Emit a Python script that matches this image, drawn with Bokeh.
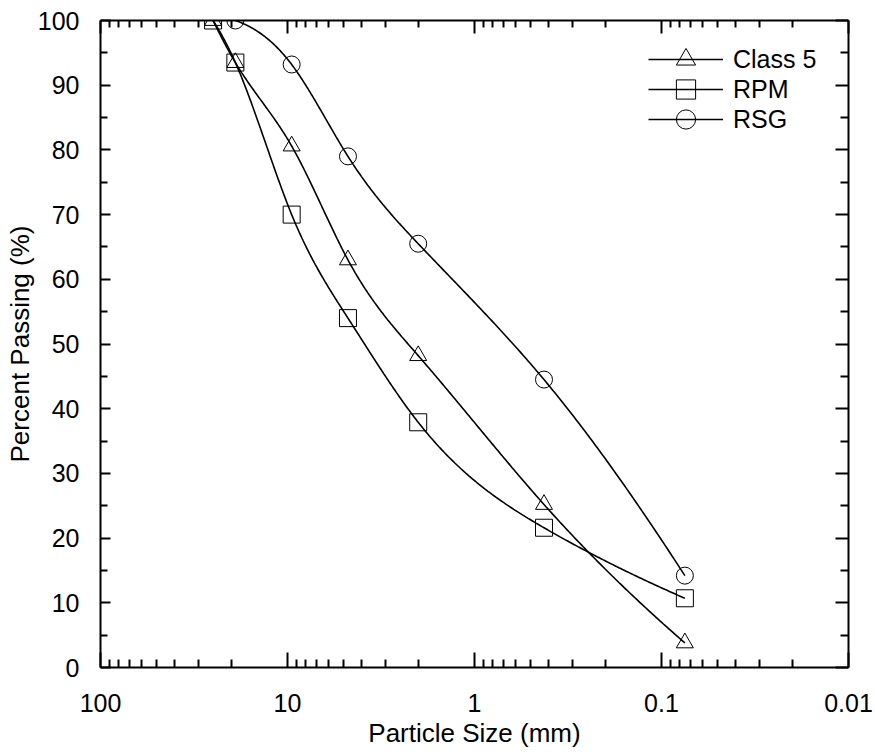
import numpy as np
from bokeh.plotting import figure
from bokeh.models import (Range1d, FixedTicker, LogAxis, LinearAxis,
                          CustomJSTickFormatter, Legend, LegendItem)
from bokeh.embed import file_html
from bokeh.resources import INLINE

# ---- data ----
sizes_mm = [25, 19, 9.5, 4.75, 2.0, 0.425, 0.075]
class5 = [100, 93.5, 80.6, 63.0, 48.2, 25.2, 3.8]
rpm = [100, 93.5, 70.0, 54.0, 37.9, 21.6, 10.7]
rsg_sizes_mm = [19, 9.5, 4.75, 2.0, 0.425, 0.075]
rsg = [100, 93.2, 79.0, 65.5, 44.5, 14.2]

x_major = [100, 10, 1, 0.1, 0.01]
x_minor = [k * 10.0 ** e for e in range(-2, 2) for k in range(2, 10)]
y_major = list(range(0, 101, 10))
y_minor = list(range(5, 100, 10))

FONT = "Liberation Sans"


def smooth_curve(xs, ys, n=80, end_ratio=0.5):
    """Cubic spline through the points in (log10 x, y) space.
    End curvature = end_ratio * neighbouring curvature."""
    t = np.log10(np.asarray(xs, float))
    y = np.asarray(ys, float)
    order = np.argsort(t)
    t, y = t[order], y[order]
    m = len(t)
    h = np.diff(t)
    A = np.zeros((m, m))
    b = np.zeros(m)
    A[0, 0], A[0, 1] = 1.0, -end_ratio
    A[-1, -1], A[-1, -2] = 1.0, -end_ratio
    for i in range(1, m - 1):
        A[i, i - 1] = h[i - 1]
        A[i, i] = 2 * (h[i - 1] + h[i])
        A[i, i + 1] = h[i]
        b[i] = 6 * ((y[i + 1] - y[i]) / h[i] - (y[i] - y[i - 1]) / h[i - 1])
    M = np.linalg.solve(A, b)
    out_t, out_y = [], []
    for i in range(m - 1):
        tt = np.linspace(t[i], t[i + 1], n)
        a = (t[i + 1] - tt) / h[i]
        c = (tt - t[i]) / h[i]
        yy = (a * y[i] + c * y[i + 1]
              + ((a ** 3 - a) * M[i] + (c ** 3 - c) * M[i + 1]) * h[i] ** 2 / 6)
        out_t.extend(tt.tolist())
        out_y.extend(yy.tolist())
    return (10 ** np.array(out_t)).tolist(), out_y


p = figure(width=875, height=755, x_axis_type="log",
           x_range=Range1d(100, 0.01), y_range=Range1d(0, 100),
           output_backend="svg", toolbar_location=None,
           min_border_left=100, min_border_right=27,
           min_border_top=20, min_border_bottom=88)
p.xgrid.visible = False
p.ygrid.visible = False
p.outline_line_color = None
p.background_fill_color = "white"
p.border_fill_color = "white"

fmt = CustomJSTickFormatter(code="return tick >= 1 ? tick.toFixed(0) : tick.toString();")


def style_axis(ax, major_len, minor_len, labels=True):
    ax.axis_line_width = 2
    ax.axis_line_color = "black"
    ax.major_tick_line_width = 2
    ax.minor_tick_line_width = 2
    ax.major_tick_line_color = "black"
    ax.minor_tick_line_color = "black"
    ax.major_tick_in = major_len
    ax.major_tick_out = 0
    ax.minor_tick_in = minor_len
    ax.minor_tick_out = 0
    ax.major_label_text_font = FONT
    ax.major_label_text_color = "black"
    ax.axis_label_text_font = FONT
    ax.axis_label_text_font_style = "normal"
    ax.axis_label_text_color = "black"
    ax.axis_label_text_font_size = "26px"
    if labels:
        ax.major_label_text_font_size = "25px"
    else:
        ax.major_label_text_font_size = "1px"
        ax.major_label_text_alpha = 0
        ax.major_label_standoff = 0


# bottom axis
xb = p.xaxis[0]
xb.ticker = FixedTicker(ticks=x_major, minor_ticks=x_minor)
xb.formatter = fmt
xb.axis_label = "Particle Size (mm)"
style_axis(xb, 15, 8)
xb.major_label_standoff = 26
xb.axis_label_standoff = 3

# left axis
yl = p.yaxis[0]
yl.ticker = FixedTicker(ticks=y_major, minor_ticks=y_minor)
yl.axis_label = "Percent Passing (%)"
style_axis(yl, 10, 7)
yl.major_label_standoff = 21
yl.axis_label_standoff = 0

# mirrored top / right axes (ticks only)
xt = LogAxis(ticker=FixedTicker(ticks=x_major, minor_ticks=x_minor))
style_axis(xt, 13, 7, labels=False)
p.add_layout(xt, "above")
yr = LinearAxis(ticker=FixedTicker(ticks=y_major, minor_ticks=y_minor))
style_axis(yr, 13, 8, labels=False)
p.add_layout(yr, "right")

# ---- series ----
series = [
    ("Class 5", sizes_mm, class5, "triangle"),
    ("RPM", sizes_mm, rpm, "square"),
    ("RSG", rsg_sizes_mm, rsg, "circle"),
]
legend_bottoms = [584, 554, 524]   # screen offsets of each legend row
for (name, xs, ys, marker), ly in zip(series, legend_bottoms):
    cx, cy = smooth_curve(xs, ys)
    lr = p.line(cx, cy, line_color="black", line_width=1.6)
    sr = p.scatter(xs, ys, marker=marker, size=17, line_color="black",
                   line_width=1, fill_alpha=0)
    leg = Legend(items=[LegendItem(label=name, renderers=[lr, sr])],
                 location=(548, ly), glyph_width=75, glyph_height=48,
                 label_standoff=10, padding=0, margin=0,
                 border_line_color=None, background_fill_alpha=0,
                 label_text_font=FONT, label_text_font_size="25px",
                 label_text_color="black", label_height=30)
    p.add_layout(leg)

open("out.html", "w").write(file_html(p, INLINE))
